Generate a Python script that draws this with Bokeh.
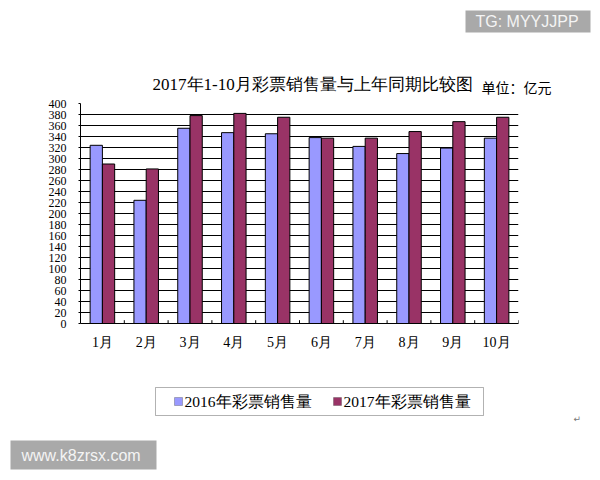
from bokeh.plotting import figure
from bokeh.layouts import column
from bokeh.models import (FactorRange, Range1d, Label, SingleIntervalTicker,
                          ColumnDataSource, BoxAnnotation)
from bokeh.transform import dodge
from bokeh.embed import file_html
from bokeh.resources import INLINE

months = ["1月", "2月", "3月", "4月", "5月", "6月", "7月", "8月", "9月", "10月"]
sales_2016 = [324, 224, 355, 347, 345, 338, 322, 309, 319, 337]
sales_2017 = [290, 281, 378, 382, 375, 337, 337, 349, 367, 375]
series_names = ["2016年彩票销售量", "2017年彩票销售量"]
colors = ["#9999FF", "#993366"]
title_text = "2017年1-10月彩票销售量与上年同期比较图"
unit_text = "单位：亿元"

W = 592
serif = "Liberation Serif"


def blank(h, y0):
    f = figure(width=W, height=h, output_backend="svg", toolbar_location=None,
               x_range=Range1d(0, W), y_range=Range1d(y0 + h, y0),
               min_border=0, min_border_left=0, min_border_right=0,
               min_border_top=0, min_border_bottom=0, frame_align=False)
    f.axis.visible = False
    f.grid.visible = False
    f.outline_line_color = None
    return f


# ---- top strip: title, unit, watermark
top = blank(95, 0)
top.add_layout(Label(x=152, y=84, text=title_text, text_font=serif, text_font_size="17px",
                     text_baseline="middle", text_color="black"))
top.add_layout(Label(x=481, y=86, text=unit_text, text_font="Noto Sans CJK SC",
                     text_font_size="14px", text_baseline="middle", text_color="black"))
top.add_layout(BoxAnnotation(left=465, right=590, top=10, bottom=32, fill_color="#a9a9a9",
                             fill_alpha=1, line_color=None))
top.add_layout(Label(x=475, y=21, text="TG: MYYJJPP", text_font="Liberation Sans",
                     text_font_size="16px", text_baseline="middle", text_color="#f4f4f4"))

# ---- main chart
p = figure(x_range=FactorRange(*months, range_padding=0), y_range=Range1d(0, 400),
           width=W, height=280, output_backend="svg", toolbar_location=None,
           min_border_left=80, min_border_right=74, min_border_top=8, min_border_bottom=52,
           frame_align=False)

src = ColumnDataSource(dict(m=months, a=sales_2016, b=sales_2017))
p.vbar(x=dodge("m", -0.14, range=p.x_range), top="a", width=0.28, source=src,
       fill_color=colors[0], line_color="black", line_width=1)
p.vbar(x=dodge("m", 0.14, range=p.x_range), top="b", width=0.28, source=src,
       fill_color=colors[1], line_color="black", line_width=1)

# category boundary ticks
tick_src = ColumnDataSource(dict(m=months, y0=[0] * len(months), y1=[6] * len(months)))
p.segment(x0=dodge("m", 0.5, range=p.x_range), x1=dodge("m", 0.5, range=p.x_range),
          y0="y0", y1="y1", source=tick_src, line_color="black", line_width=1)

p.yaxis.ticker = SingleIntervalTicker(interval=20)
p.ygrid.grid_line_color = "black"
p.ygrid.grid_line_width = 1
p.xgrid.grid_line_color = None
p.outline_line_color = None
for ax in (p.xaxis[0], p.yaxis[0]):
    ax.axis_line_color = "black"
    ax.major_label_text_font = serif
    ax.major_label_text_color = "black"
    ax.minor_tick_line_color = None
p.yaxis.major_tick_out = 2
p.yaxis.major_tick_in = 0
p.yaxis.major_label_text_font_size = "12px"
p.yaxis.major_label_standoff = 10
p.xaxis.major_tick_line_color = None
p.xaxis.major_label_text_font_size = "14px"
p.xaxis.major_label_standoff = 5

# ---- bottom strip: legend, watermark
bot = blank(105, 375)
bot.add_layout(BoxAnnotation(left=155, right=483, top=387, bottom=415, fill_color="white",
                             fill_alpha=1, line_color="black", line_width=1))
for i, (lx, name) in enumerate(zip([174, 333], series_names)):
    bot.add_layout(BoxAnnotation(left=lx, right=lx + 8, top=397, bottom=405,
                                 fill_color=colors[i], fill_alpha=1,
                                 line_color="#333333", line_width=1))
    bot.add_layout(Label(x=lx + 10, y=401, text=name, text_font=serif, text_font_size="15.5px",
                         text_baseline="middle", text_color="black"))
bot.add_layout(BoxAnnotation(left=10, right=156, top=440, bottom=469, fill_color="#a9a9a9",
                             fill_alpha=1, line_color=None))
bot.add_layout(Label(x=21, y=455, text="www.k8zrsx.com", text_font="Liberation Sans",
                     text_font_size="16px", text_baseline="middle", text_color="#f4f4f4"))
bot.add_layout(Label(x=573, y=418, text="↵", text_font="DejaVu Sans", text_font_size="9px",
                     text_baseline="middle", text_color="#777777"))

layout = column(top, p, bot, spacing=0)
open("out.html", "w").write(file_html(layout, INLINE))
